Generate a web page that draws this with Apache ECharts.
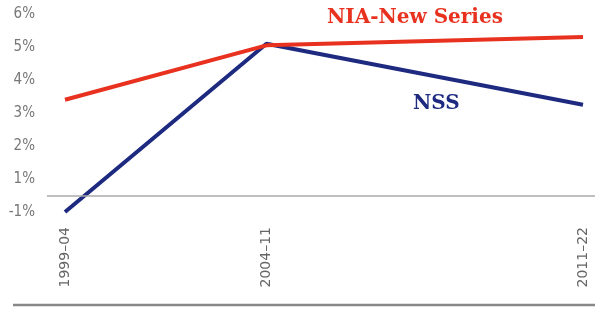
<!DOCTYPE html>
<html>
<head>
<meta charset="utf-8">
<script src="https://cdn.jsdelivr.net/npm/echarts@6/dist/echarts.min.js"></script>
<style>
  html, body { margin: 0; padding: 0; background: #fff; }
  #chart { width: 595px; height: 331px; }
</style>
</head>
<body>
<div id="chart"></div>
<script>
  // periods and the end year used to place them on the x axis
  var periods = ['1999\u201304', '2004\u201311', '2011\u201322'];
  var periodEnd = [2004, 2011, 2022];

  // growth rates, %
  var niaNewSeries = [3.4, 5.05, 5.3];
  var nss = [-1.0, 5.1, 3.25];

  var yTickLabels = ['-1%', '1%', '2%', '3%', '4%', '5%', '6%'];

  // the source squeezes the -1%..1% band into one step of the axis
  function slot(v) {
    return v >= 1 ? v : (v + 1) / 2;
  }

  function pairs(vals) {
    var out = [];
    for (var i = 0; i < vals.length; i++) {
      out.push([periodEnd[i], slot(vals[i])]);
    }
    return out;
  }

  var serif = '"DejaVu Serif", "Liberation Serif", serif';

  var option = {
    animation: false,
    grid: { left: 47, right: 0, top: 14, bottom: 119 },
    xAxis: {
      type: 'value',
      min: 2003.375,
      max: 2022.417,
      axisLine: { show: false },
      axisTick: { show: false },
      splitLine: { show: false },
      axisLabel: {
        customValues: periodEnd,
        rotate: 90,
        margin: 15,
        color: '#666',
        fontFamily: '"DejaVu Sans", sans-serif',
        fontSize: 14,
        formatter: function (v) {
          var i = periodEnd.indexOf(v);
          return i < 0 ? '' : periods[i];
        }
      }
    },
    yAxis: {
      type: 'value',
      min: 0,
      max: 6,
      interval: 1,
      axisLine: { show: false },
      axisTick: { show: false },
      splitLine: { show: false },
      axisLabel: {
        margin: 12,
        color: '#777',
        fontFamily: '"DejaVu Sans Condensed", "DejaVu Sans", sans-serif',
        fontSize: 15,
        formatter: function (v) { return yTickLabels[v]; }
      }
    },
    series: [
      {
        name: 'NSS',
        type: 'line',
        data: pairs(nss),
        symbol: 'none',
        lineStyle: { color: '#1d2a80', width: 4 },
        markLine: {
          silent: true,
          symbol: 'none',
          label: { show: false },
          lineStyle: { color: '#aaa', width: 1.5, type: 'solid' },
          data: [{ yAxis: slot(0) }]
        },
        z: 2
      },
      {
        name: 'NIA-New Series',
        type: 'line',
        data: pairs(niaNewSeries),
        symbol: 'none',
        lineStyle: { color: '#e8321f', width: 4 },
        z: 3
      }
    ],
    graphic: [
      {
        type: 'text',
        left: 327,
        top: 8,
        style: {
          text: 'NIA-New Series',
          fill: '#e8321f',
          font: 'bold 20px ' + serif
        }
      },
      {
        type: 'text',
        left: 413,
        top: 94,
        style: {
          text: 'NSS',
          fill: '#1d2a80',
          font: 'bold 20px ' + serif
        }
      },
      {
        type: 'line',
        shape: { x1: 13, y1: 305, x2: 595, y2: 305 },
        style: { stroke: '#888', lineWidth: 2.5 }
      }
    ]
  };

  var chart = echarts.init(document.getElementById('chart'));
  chart.setOption(option);
</script>
</body>
</html>
